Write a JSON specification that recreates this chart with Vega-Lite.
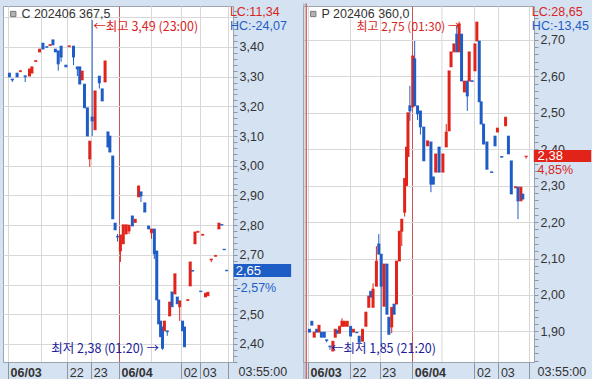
{
  "$schema": "https://vega.github.io/schema/vega-lite/v6.json",
  "padding": {"left": 2, "top": 2, "right": 0, "bottom": 0},
  "bounds": "flush",
  "spacing": 70,
  "background": "#d5e2f2",
  "config": {
    "view": {"fill": "white", "stroke": "#9aa4b0"},
    "axis": {"labelFont": "Liberation Sans", "labelFontSize": 12.5, "labelColor": "#333333", "domainColor": "#9aa4b0", "tickColor": "#8a96a4", "gridColor": "#d8d8d8", "labelOverlap": false}
  },
  "datasets": {
    "cl": [
      {"t":1.5,"o":3.312,"h":3.312,"l":3.299,"c":3.299},
      {"t":4.5,"o":3.292,"h":3.292,"l":3.282,"c":3.289},
      {"t":9.5,"o":3.312,"h":3.312,"l":3.299,"c":3.299},
      {"t":13,"o":3.317,"h":3.320,"l":3.317,"c":3.320},
      {"t":18,"o":3.303,"h":3.303,"l":3.282,"c":3.300},
      {"t":22.5,"o":3.302,"h":3.326,"l":3.302,"c":3.326},
      {"t":25,"o":3.312,"h":3.333,"l":3.312,"c":3.333},
      {"t":29,"o":3.351,"h":3.354,"l":3.351,"c":3.354},
      {"t":33,"o":3.383,"h":3.393,"l":3.383,"c":3.393},
      {"t":36.5,"o":3.413,"h":3.413,"l":3.393,"c":3.393},
      {"t":40.5,"o":3.401,"h":3.401,"l":3.399,"c":3.399},
      {"t":44,"o":3.405,"h":3.408,"l":3.405,"c":3.408},
      {"t":47,"o":3.424,"h":3.424,"l":3.407,"c":3.407},
      {"t":49.5,"o":3.393,"h":3.393,"l":3.383,"c":3.383},
      {"t":52.5,"o":3.387,"h":3.387,"l":3.320,"c":3.343},
      {"t":55.5,"o":3.403,"h":3.403,"l":3.350,"c":3.366},
      {"t":60.5,"o":3.339,"h":3.339,"l":3.333,"c":3.333},
      {"t":64,"o":3.401,"h":3.404,"l":3.401,"c":3.404},
      {"t":68.5,"o":3.403,"h":3.403,"l":3.339,"c":3.366},
      {"t":72.5,"o":3.333,"h":3.333,"l":3.302,"c":3.326},
      {"t":75,"o":3.333,"h":3.333,"l":3.275,"c":3.275},
      {"t":77.5,"o":3.289,"h":3.319,"l":3.289,"c":3.319},
      {"t":80,"o":3.275,"h":3.275,"l":3.195,"c":3.195},
      {"t":83,"o":3.195,"h":3.195,"l":3.100,"c":3.100},
      {"t":85.5,"o":3.023,"h":3.083,"l":2.996,"c":3.083},
      {"t":88,"o":3.164,"h":3.491,"l":3.100,"c":3.151},
      {"t":91,"o":3.121,"h":3.252,"l":3.121,"c":3.252},
      {"t":95.5,"o":3.302,"h":3.302,"l":3.260,"c":3.279},
      {"t":98.5,"o":3.259,"h":3.259,"l":3.218,"c":3.218},
      {"t":101.5,"o":3.282,"h":3.353,"l":3.282,"c":3.353},
      {"t":104.5,"o":3.114,"h":3.114,"l":3.063,"c":3.063},
      {"t":106.5,"o":3.100,"h":3.100,"l":3.046,"c":3.046},
      {"t":109.5,"o":3.033,"h":3.033,"l":2.821,"c":2.821},
      {"t":112,"o":2.807,"h":2.807,"l":2.784,"c":2.784},
      {"t":114.5,"o":2.762,"h":2.770,"l":2.745,"c":2.760},
      {"t":117.5,"o":2.713,"h":2.767,"l":2.676,"c":2.767},
      {"t":120.5,"o":2.737,"h":2.801,"l":2.737,"c":2.801},
      {"t":123.5,"o":2.770,"h":2.801,"l":2.770,"c":2.801},
      {"t":126.5,"o":2.780,"h":2.800,"l":2.770,"c":2.800},
      {"t":130,"o":2.831,"h":2.831,"l":2.797,"c":2.797},
      {"t":133,"o":2.809,"h":2.820,"l":2.809,"c":2.820},
      {"t":136.5,"o":2.895,"h":2.932,"l":2.895,"c":2.932},
      {"t":139,"o":2.912,"h":2.912,"l":2.878,"c":2.898},
      {"t":143,"o":2.875,"h":2.875,"l":2.844,"c":2.844},
      {"t":147,"o":2.797,"h":2.797,"l":2.787,"c":2.787},
      {"t":150,"o":2.774,"h":2.787,"l":2.754,"c":2.787},
      {"t":153,"o":2.787,"h":2.787,"l":2.686,"c":2.703},
      {"t":155.5,"o":2.713,"h":2.713,"l":2.548,"c":2.548},
      {"t":157.5,"o":2.548,"h":2.548,"l":2.467,"c":2.467},
      {"t":159.5,"o":2.477,"h":2.477,"l":2.424,"c":2.424},
      {"t":161.5,"o":2.457,"h":2.457,"l":2.380,"c":2.385},
      {"t":163.5,"o":2.444,"h":2.477,"l":2.444,"c":2.477},
      {"t":166.5,"o":2.444,"h":2.444,"l":2.427,"c":2.441},
      {"t":169,"o":2.494,"h":2.541,"l":2.494,"c":2.541},
      {"t":171.5,"o":2.575,"h":2.575,"l":2.525,"c":2.525},
      {"t":174.5,"o":2.568,"h":2.636,"l":2.568,"c":2.636},
      {"t":177,"o":2.558,"h":2.558,"l":2.535,"c":2.535},
      {"t":179.5,"o":2.525,"h":2.545,"l":2.477,"c":2.545},
      {"t":182.5,"o":2.477,"h":2.477,"l":2.444,"c":2.444},
      {"t":184.5,"o":2.457,"h":2.457,"l":2.390,"c":2.390},
      {"t":188,"o":2.546,"h":2.549,"l":2.546,"c":2.549},
      {"t":190.5,"o":2.595,"h":2.676,"l":2.595,"c":2.676},
      {"t":193,"o":2.647,"h":2.647,"l":2.645,"c":2.645},
      {"t":195.5,"o":2.737,"h":2.777,"l":2.737,"c":2.777},
      {"t":198.5,"o":2.776,"h":2.779,"l":2.776,"c":2.779},
      {"t":201.5,"o":2.578,"h":2.578,"l":2.576,"c":2.576},
      {"t":203.5,"o":2.766,"h":2.769,"l":2.766,"c":2.769},
      {"t":206.5,"o":2.558,"h":2.571,"l":2.558,"c":2.571},
      {"t":209,"o":2.562,"h":2.574,"l":2.562,"c":2.574},
      {"t":212.5,"o":2.683,"h":2.686,"l":2.675,"c":2.686},
      {"t":217,"o":2.695,"h":2.698,"l":2.695,"c":2.698},
      {"t":220.5,"o":2.787,"h":2.807,"l":2.787,"c":2.807},
      {"t":223.5,"o":2.802,"h":2.802,"l":2.800,"c":2.800},
      {"t":226,"o":2.719,"h":2.719,"l":2.717,"c":2.717},
      {"t":228.5,"o":2.648,"h":2.648,"l":2.646,"c":2.646}
    ],
    "cr": [
      {"t":1.5,"o":1.906,"h":1.906,"l":1.898,"c":1.898},
      {"t":4,"o":1.928,"h":1.928,"l":1.917,"c":1.917},
      {"t":6.5,"o":1.884,"h":1.898,"l":1.884,"c":1.898},
      {"t":9,"o":1.906,"h":1.906,"l":1.898,"c":1.898},
      {"t":11.5,"o":1.898,"h":1.917,"l":1.898,"c":1.917},
      {"t":14,"o":1.898,"h":1.898,"l":1.884,"c":1.884},
      {"t":17,"o":1.898,"h":1.898,"l":1.884,"c":1.884},
      {"t":19.5,"o":1.877,"h":1.877,"l":1.870,"c":1.875},
      {"t":23,"o":1.860,"h":1.860,"l":1.850,"c":1.858},
      {"t":26,"o":1.846,"h":1.873,"l":1.846,"c":1.873},
      {"t":28.5,"o":1.884,"h":1.906,"l":1.884,"c":1.906},
      {"t":30.5,"o":1.903,"h":1.903,"l":1.895,"c":1.895},
      {"t":33,"o":1.895,"h":1.914,"l":1.895,"c":1.914},
      {"t":35.5,"o":1.914,"h":1.936,"l":1.914,"c":1.928},
      {"t":38,"o":1.914,"h":1.928,"l":1.914,"c":1.928},
      {"t":41,"o":1.914,"h":1.928,"l":1.914,"c":1.928},
      {"t":44.5,"o":1.914,"h":1.914,"l":1.887,"c":1.887},
      {"t":47.5,"o":1.898,"h":1.906,"l":1.898,"c":1.906},
      {"t":51,"o":1.898,"h":1.898,"l":1.896,"c":1.896},
      {"t":53.5,"o":1.887,"h":1.887,"l":1.870,"c":1.870},
      {"t":57,"o":1.873,"h":1.906,"l":1.873,"c":1.906},
      {"t":60.5,"o":1.914,"h":1.953,"l":1.914,"c":1.953},
      {"t":63.5,"o":1.966,"h":1.997,"l":1.966,"c":1.997},
      {"t":65.5,"o":2.010,"h":2.010,"l":1.994,"c":1.994},
      {"t":68,"o":1.966,"h":2.032,"l":1.966,"c":2.016},
      {"t":71.5,"o":2.024,"h":2.134,"l":2.024,"c":2.093},
      {"t":74,"o":2.140,"h":2.167,"l":2.112,"c":2.112},
      {"t":76.5,"o":2.112,"h":2.112,"l":1.857,"c":2.024},
      {"t":79.5,"o":1.969,"h":2.085,"l":1.969,"c":2.085},
      {"t":82.5,"o":2.085,"h":2.085,"l":1.947,"c":1.947},
      {"t":84.5,"o":1.939,"h":1.939,"l":1.892,"c":1.892},
      {"t":87.5,"o":1.912,"h":1.966,"l":1.895,"c":1.966},
      {"t":90,"o":1.975,"h":1.975,"l":1.947,"c":1.947},
      {"t":92.5,"o":1.975,"h":2.093,"l":1.975,"c":2.093},
      {"t":95.5,"o":2.093,"h":2.175,"l":2.093,"c":2.175},
      {"t":98,"o":2.175,"h":2.208,"l":2.134,"c":2.208},
      {"t":101,"o":2.227,"h":2.320,"l":2.215,"c":2.320},
      {"t":103,"o":2.300,"h":2.406,"l":2.300,"c":2.406},
      {"t":104.5,"o":2.380,"h":2.500,"l":2.380,"c":2.500},
      {"t":106.5,"o":2.519,"h":2.574,"l":2.478,"c":2.505},
      {"t":109.5,"o":2.516,"h":2.656,"l":2.516,"c":2.656},
      {"t":111.5,"o":2.648,"h":2.697,"l":2.519,"c":2.519},
      {"t":114.5,"o":2.519,"h":2.519,"l":2.480,"c":2.497},
      {"t":117.5,"o":2.505,"h":2.505,"l":2.440,"c":2.461},
      {"t":121,"o":2.461,"h":2.461,"l":2.368,"c":2.368},
      {"t":125,"o":2.409,"h":2.423,"l":2.409,"c":2.423},
      {"t":128.5,"o":2.420,"h":2.420,"l":2.282,"c":2.304},
      {"t":131,"o":2.324,"h":2.324,"l":2.304,"c":2.304},
      {"t":133.5,"o":2.337,"h":2.387,"l":2.337,"c":2.387},
      {"t":137,"o":2.406,"h":2.406,"l":2.337,"c":2.337},
      {"t":141,"o":2.337,"h":2.387,"l":2.337,"c":2.387},
      {"t":144.5,"o":2.406,"h":2.469,"l":2.406,"c":2.447},
      {"t":147.5,"o":2.450,"h":2.615,"l":2.450,"c":2.615},
      {"t":149.5,"o":2.626,"h":2.667,"l":2.626,"c":2.667},
      {"t":152.5,"o":2.667,"h":2.689,"l":2.667,"c":2.689},
      {"t":155.5,"o":2.716,"h":2.740,"l":2.667,"c":2.667},
      {"t":158,"o":2.667,"h":2.750,"l":2.667,"c":2.744},
      {"t":160.5,"o":2.716,"h":2.716,"l":2.587,"c":2.587},
      {"t":163.5,"o":2.557,"h":2.587,"l":2.557,"c":2.587},
      {"t":166.5,"o":2.587,"h":2.587,"l":2.505,"c":2.546},
      {"t":168.5,"o":2.587,"h":2.667,"l":2.587,"c":2.667},
      {"t":171.5,"o":2.588,"h":2.588,"l":2.586,"c":2.586},
      {"t":174.5,"o":2.615,"h":2.689,"l":2.615,"c":2.689},
      {"t":176.5,"o":2.697,"h":2.749,"l":2.697,"c":2.749},
      {"t":179,"o":2.697,"h":2.697,"l":2.530,"c":2.530},
      {"t":181,"o":2.530,"h":2.530,"l":2.469,"c":2.469},
      {"t":183.5,"o":2.469,"h":2.469,"l":2.414,"c":2.414},
      {"t":187,"o":2.420,"h":2.420,"l":2.345,"c":2.345},
      {"t":192,"o":2.338,"h":2.338,"l":2.336,"c":2.336},
      {"t":195.5,"o":2.436,"h":2.436,"l":2.409,"c":2.409},
      {"t":198,"o":2.447,"h":2.458,"l":2.447,"c":2.458},
      {"t":202.5,"o":2.380,"h":2.380,"l":2.378,"c":2.378},
      {"t":206.5,"o":2.464,"h":2.488,"l":2.464,"c":2.488},
      {"t":209.5,"o":2.436,"h":2.436,"l":2.387,"c":2.387},
      {"t":212.5,"o":2.368,"h":2.368,"l":2.277,"c":2.277},
      {"t":217,"o":2.294,"h":2.297,"l":2.294,"c":2.297},
      {"t":219.5,"o":2.296,"h":2.296,"l":2.208,"c":2.258},
      {"t":222.5,"o":2.258,"h":2.296,"l":2.258,"c":2.296},
      {"t":224.5,"o":2.277,"h":2.277,"l":2.263,"c":2.263},
      {"t":228,"o":2.380,"h":2.381,"l":2.374,"c":2.381}
    ]
  },
  "hconcat": [
    {
      "width": 230,
      "height": 356,
      "layer": [
        {
          "data": {"values": [{"t": 35}, {"t": 150}]},
          "mark": {"type": "rule", "color": "#d8d8d8", "strokeWidth": 1},
          "encoding": {"x": {"field": "t", "type": "quantitative"}}
        },
        {
          "data": {"name": "cl"},
          "mark": {"type": "rule", "strokeWidth": 1},
          "encoding": {
            "x": {"field": "t", "type": "quantitative", "scale": {"domain": [0, 230], "nice": false, "zero": false},
              "axis": {"title": null, "values": [0, 62, 87, 116, 181, 201, 230], "tickCount": 40,
                "labelExpr": "datum.value == 0 ? '06/03' : datum.value == 62 ? '22' : datum.value == 87 ? '23' : datum.value == 116 ? '06/04' : datum.value == 181 ? '02' : datum.value == 201 ? '03' : ''",
                "grid": true,
                "gridColor": {"condition": {"test": "datum.value == 116", "value": "#c85454"}, "value": "#d8d8d8"},
                "tickSize": 19,
                "labelAlign": "left", "labelBaseline": "middle", "labelPadding": -9, "labelOffset": 2,
                "labelFontWeight": {"condition": {"test": "datum.value == 0 || datum.value == 116", "value": "bold"}, "value": "normal"},
                "labelFlush": false, "labelOverlap": false}},
            "y": {"field": "l", "type": "quantitative", "scale": {"domain": [2.339, 3.538], "nice": false, "zero": false},
              "axis": {"title": null, "orient": "right", "tickCount": 60,
                "labelExpr": "(round(datum.value*100) % 10 != 0 || round(datum.value*100) == 350 || round(datum.value*100) == 260) ? '' : replace(format(datum.value, '.2f'), '.', ',')",
                "grid": true,
                "gridOpacity": {"condition": {"test": "round(datum.value*100) % 10 != 0", "value": 0}, "value": 1},
                "tickSize": 4,
                "labelPadding": 2, "labelFlush": false, "labelOverlap": false}},
            "y2": {"field": "h"},
            "color": {"condition": {"test": "datum.c >= datum.o", "value": "#e2231a"}, "value": "#1f5dc6"}
          }
        },
        {
          "data": {"name": "cl"},
          "mark": {"type": "bar", "size": 3},
          "encoding": {
            "x": {"field": "t", "type": "quantitative"},
            "y": {"field": "o", "type": "quantitative"},
            "y2": {"field": "c"},
            "color": {"condition": {"test": "datum.c >= datum.o", "value": "#e2231a"}, "value": "#1f5dc6"}
          }
        },
        {
          "data": {"name": "cl"},
          "mark": {"type": "tick", "orient": "horizontal", "size": 3, "thickness": 1},
          "encoding": {
            "x": {"field": "t", "type": "quantitative"},
            "y": {"field": "c", "type": "quantitative"},
            "color": {"condition": {"test": "datum.c >= datum.o", "value": "#e2231a"}, "value": "#1f5dc6"}
          }
        },
        {
          "data": {"name": "cl"},
          "mark": {"type": "tick", "orient": "horizontal", "size": 3, "thickness": 1},
          "encoding": {
            "x": {"field": "t", "type": "quantitative"},
            "y": {"field": "o", "type": "quantitative"},
            "color": {"condition": {"test": "datum.c >= datum.o", "value": "#e2231a"}, "value": "#1f5dc6"}
          }
        },
        {
          "data": {"values": [{"t": 5.5, "v": 3.511}]},
          "mark": {"type": "point", "shape": "square", "size": 28, "filled": true, "fill": "#b4b4b4", "stroke": "#777777", "strokeWidth": 1, "opacity": 1},
          "encoding": {"x": {"field": "t", "type": "quantitative"}, "y": {"field": "v", "type": "quantitative"}}
        },
        {
          "data": {"values": [{"t": 14, "v": 3.511, "s": "C 202406 367,5"}]},
          "mark": {"type": "text", "align": "left", "baseline": "middle", "font": "Liberation Sans", "fontSize": 12.5, "color": "#333333"},
          "encoding": {"x": {"field": "t", "type": "quantitative"}, "y": {"field": "v", "type": "quantitative"}, "text": {"field": "s"}}
        },
        {
          "data": {"values": [{"t": 89, "v": 3.468, "s": "←최고 3,49 (23:00)"}]},
          "mark": {"type": "text", "align": "left", "baseline": "middle", "font": "Noto Sans CJK KR", "fontSize": 12.5, "color": "#d8261e"},
          "encoding": {"x": {"field": "t", "type": "quantitative"}, "y": {"field": "v", "type": "quantitative"}, "text": {"field": "s"}}
        },
        {
          "data": {"values": [{"t": 158, "v": 2.383, "s": "최저 2,38 (01:20) →"}]},
          "mark": {"type": "text", "align": "right", "baseline": "middle", "font": "Noto Sans CJK KR", "fontSize": 12.5, "color": "#1c1c9c"},
          "encoding": {"x": {"field": "t", "type": "quantitative"}, "y": {"field": "v", "type": "quantitative"}, "text": {"field": "s"}}
        },
        {
          "data": {"values": [{"t": 232, "v": 3.518, "s": "LC:11,34"}]},
          "mark": {"type": "text", "align": "left", "baseline": "middle", "font": "Liberation Sans", "fontSize": 12.5, "color": "#d8261e"},
          "encoding": {"x": {"field": "t", "type": "quantitative"}, "y": {"field": "v", "type": "quantitative"}, "text": {"field": "s"}}
        },
        {
          "data": {"values": [{"t": 232, "v": 3.471, "s": "HC:-24,07"}, {"t": 239, "v": 2.589, "s": "-2,57%"}]},
          "mark": {"type": "text", "align": "left", "baseline": "middle", "font": "Liberation Sans", "fontSize": 12.5, "color": "#1f5dc6"},
          "encoding": {"x": {"field": "t", "type": "quantitative"}, "y": {"field": "v", "type": "quantitative"}, "text": {"field": "s"}}
        },
        {
          "data": {"values": [{"t": 236, "t2": 296, "v": 2.669, "v2": 2.625}]},
          "mark": {"type": "rect", "color": "#1f5dc6"},
          "encoding": {"x": {"field": "t", "type": "quantitative"}, "x2": {"field": "t2"}, "y": {"field": "v", "type": "quantitative"}, "y2": {"field": "v2"}}
        },
        {
          "data": {"values": [{"t": 238, "v": 2.646, "s": "2,65"}]},
          "mark": {"type": "text", "align": "left", "baseline": "middle", "font": "Liberation Sans", "fontSize": 13, "color": "white"},
          "encoding": {"x": {"field": "t", "type": "quantitative"}, "y": {"field": "v", "type": "quantitative"}, "text": {"field": "s"}}
        },
        {
          "data": {"values": [{"t": 241, "v": 2.306, "s": "03:55:00"}]},
          "mark": {"type": "text", "align": "left", "baseline": "middle", "font": "Liberation Sans", "fontSize": 12.5, "color": "#333333"},
          "encoding": {"x": {"field": "t", "type": "quantitative"}, "y": {"field": "v", "type": "quantitative"}, "text": {"field": "s"}}
        }
      ]
    },
    {
      "width": 231,
      "height": 356,
      "layer": [
        {
          "data": {"values": [{"t": 140}]},
          "mark": {"type": "rule", "color": "#d8d8d8", "strokeWidth": 1},
          "encoding": {"x": {"field": "t", "type": "quantitative"}}
        },
        {
          "data": {"values": [{"t": -4.3, "a": 2.80, "b": 1.757}]},
          "mark": {"type": "rule", "color": "#9aa4b0", "strokeWidth": 1},
          "encoding": {"x": {"field": "t", "type": "quantitative"}, "y": {"field": "a", "type": "quantitative"}, "y2": {"field": "b"}}
        },
        {
          "data": {"values": [{"t": -1.8, "a": 2.80, "b": 1.757}]},
          "mark": {"type": "rule", "color": "#c86a6a", "strokeWidth": 1.5},
          "encoding": {"x": {"field": "t", "type": "quantitative"}, "y": {"field": "a", "type": "quantitative"}, "y2": {"field": "b"}}
        },
        {
          "data": {"name": "cr"},
          "mark": {"type": "rule", "strokeWidth": 1},
          "encoding": {
            "x": {"field": "t", "type": "quantitative", "scale": {"domain": [0, 231], "nice": false, "zero": false},
              "axis": {"title": null, "values": [0, 44, 75, 109, 174, 199, 231], "tickCount": 40,
                "labelExpr": "datum.value == 0 ? '06/03' : datum.value == 44 ? '22' : datum.value == 75 ? '23' : datum.value == 109 ? '06/04' : datum.value == 174 ? '02' : datum.value == 199 ? '03' : ''",
                "grid": true,
                "gridColor": {"condition": {"test": "datum.value == 109", "value": "#c85454"}, "value": "#d8d8d8"},
                "tickSize": 19,
                "labelAlign": "left", "labelBaseline": "middle", "labelPadding": -9, "labelOffset": 2,
                "labelFontWeight": {"condition": {"test": "datum.value == 0 || datum.value == 109", "value": "bold"}, "value": "normal"},
                "labelFlush": false, "labelOverlap": false}},
            "y": {"field": "l", "type": "quantitative", "scale": {"domain": [1.816, 2.793], "nice": false, "zero": false},
              "axis": {"title": null, "orient": "right", "tickCount": 50,
                "labelExpr": "round(datum.value*100) % 10 != 0 ? '' : replace(format(datum.value, '.2f'), '.', ',')",
                "grid": true,
                "gridOpacity": {"condition": {"test": "round(datum.value*100) % 10 != 0", "value": 0}, "value": 1},
                "tickSize": 4,
                "labelPadding": 2, "labelFlush": false, "labelOverlap": false}},
            "y2": {"field": "h"},
            "color": {"condition": {"test": "datum.c >= datum.o", "value": "#e2231a"}, "value": "#1f5dc6"}
          }
        },
        {
          "data": {"name": "cr"},
          "mark": {"type": "bar", "size": 3},
          "encoding": {
            "x": {"field": "t", "type": "quantitative"},
            "y": {"field": "o", "type": "quantitative"},
            "y2": {"field": "c"},
            "color": {"condition": {"test": "datum.c >= datum.o", "value": "#e2231a"}, "value": "#1f5dc6"}
          }
        },
        {
          "data": {"name": "cr"},
          "mark": {"type": "tick", "orient": "horizontal", "size": 3, "thickness": 1},
          "encoding": {
            "x": {"field": "t", "type": "quantitative"},
            "y": {"field": "c", "type": "quantitative"},
            "color": {"condition": {"test": "datum.c >= datum.o", "value": "#e2231a"}, "value": "#1f5dc6"}
          }
        },
        {
          "data": {"name": "cr"},
          "mark": {"type": "tick", "orient": "horizontal", "size": 3, "thickness": 1},
          "encoding": {
            "x": {"field": "t", "type": "quantitative"},
            "y": {"field": "o", "type": "quantitative"},
            "color": {"condition": {"test": "datum.c >= datum.o", "value": "#e2231a"}, "value": "#1f5dc6"}
          }
        },
        {
          "data": {"values": [{"t": 5.5, "v": 2.771}]},
          "mark": {"type": "point", "shape": "square", "size": 28, "filled": true, "fill": "#b4b4b4", "stroke": "#777777", "strokeWidth": 1, "opacity": 1},
          "encoding": {"x": {"field": "t", "type": "quantitative"}, "y": {"field": "v", "type": "quantitative"}}
        },
        {
          "data": {"values": [{"t": 14, "v": 2.771, "s": "P 202406 360,0"}]},
          "mark": {"type": "text", "align": "left", "baseline": "middle", "font": "Liberation Sans", "fontSize": 12.5, "color": "#333333"},
          "encoding": {"x": {"field": "t", "type": "quantitative"}, "y": {"field": "v", "type": "quantitative"}, "text": {"field": "s"}}
        },
        {
          "data": {"values": [{"t": 159, "v": 2.735, "s": "최고 2,75 (01:30) →"}]},
          "mark": {"type": "text", "align": "right", "baseline": "middle", "font": "Noto Sans CJK KR", "fontSize": 12, "color": "#d8261e"},
          "encoding": {"x": {"field": "t", "type": "quantitative"}, "y": {"field": "v", "type": "quantitative"}, "text": {"field": "s"}}
        },
        {
          "data": {"values": [{"t": 24, "v": 1.851, "s": "←최저 1,85 (21:20)"}]},
          "mark": {"type": "text", "align": "left", "baseline": "middle", "font": "Noto Sans CJK KR", "fontSize": 12.5, "color": "#1c1c9c"},
          "encoding": {"x": {"field": "t", "type": "quantitative"}, "y": {"field": "v", "type": "quantitative"}, "text": {"field": "s"}}
        },
        {
          "data": {"values": [{"t": 234, "v": 2.777, "s": "LC:28,65"}, {"t": 240, "v": 2.344, "s": "4,85%"}]},
          "mark": {"type": "text", "align": "left", "baseline": "middle", "font": "Liberation Sans", "fontSize": 12.5, "color": "#d8261e"},
          "encoding": {"x": {"field": "t", "type": "quantitative"}, "y": {"field": "v", "type": "quantitative"}, "text": {"field": "s"}}
        },
        {
          "data": {"values": [{"t": 234, "v": 2.738, "s": "HC:-13,45"}]},
          "mark": {"type": "text", "align": "left", "baseline": "middle", "font": "Liberation Sans", "fontSize": 12.5, "color": "#1f5dc6"},
          "encoding": {"x": {"field": "t", "type": "quantitative"}, "y": {"field": "v", "type": "quantitative"}, "text": {"field": "s"}}
        },
        {
          "data": {"values": [{"t": 236, "t2": 296, "v": 2.398, "v2": 2.365}]},
          "mark": {"type": "rect", "color": "#e2231a"},
          "encoding": {"x": {"field": "t", "type": "quantitative"}, "x2": {"field": "t2"}, "y": {"field": "v", "type": "quantitative"}, "y2": {"field": "v2"}}
        },
        {
          "data": {"values": [{"t": 240, "v": 2.381, "s": "2,38"}]},
          "mark": {"type": "text", "align": "left", "baseline": "middle", "font": "Liberation Sans", "fontSize": 13, "color": "white"},
          "encoding": {"x": {"field": "t", "type": "quantitative"}, "y": {"field": "v", "type": "quantitative"}, "text": {"field": "s"}}
        },
        {
          "data": {"values": [{"t": 240, "v": 1.788, "s": "03:55:00"}]},
          "mark": {"type": "text", "align": "left", "baseline": "middle", "font": "Liberation Sans", "fontSize": 12.5, "color": "#333333"},
          "encoding": {"x": {"field": "t", "type": "quantitative"}, "y": {"field": "v", "type": "quantitative"}, "text": {"field": "s"}}
        }
      ]
    }
  ]
}
